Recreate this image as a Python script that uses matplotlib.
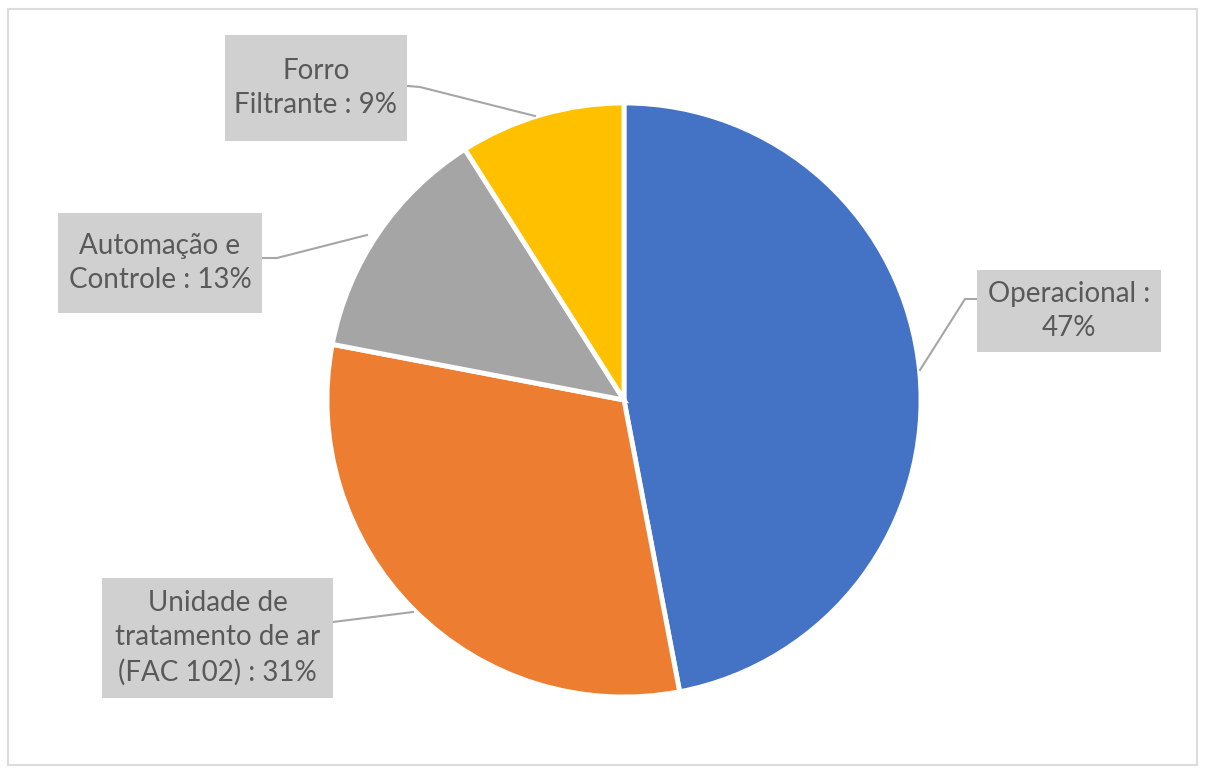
import matplotlib.pyplot as plt
from matplotlib.patches import Rectangle

# Slice data, clockwise from 12 o'clock
categories = ["Operacional", "Unidade de\ntratamento de ar\n(FAC 102)", "Automação e\nControle", "Forro\nFiltrante"]
shares = [47, 31, 13, 9]
colors = ["#4472C4", "#ED7D31", "#A5A5A5", "#FFC000"]

W, H = 1205, 773
fig = plt.figure(figsize=(W / 100, H / 100), dpi=100)
ax = fig.add_axes([0, 0, 1, 1])
ax.set_xlim(0, W)
ax.set_ylim(0, H)
ax.set_aspect("equal")
ax.axis("off")

# chart area frame
ax.add_patch(Rectangle((8, H - 765), 1189, 756, fill=False, ec="#dcdcdc", lw=1.5))

cx, cy, r = 624, H - 400, 297
ax.pie(shares, colors=colors, startangle=90, counterclock=False,
       center=(cx, cy), radius=r, frame=True,
       wedgeprops=dict(edgecolor="white", linewidth=3.5))
ax.set_xlim(0, W)
ax.set_ylim(0, H)
ax.axis("off")

# label boxes (x0, y0, x1, y1 in pixels from top-left) and leader lines
boxes = [(977, 270, 1161, 352), (102, 578, 333, 698), (58, 213, 262, 313), (225, 35, 407, 141)]
leaders = [
    [(978, 299), (965, 299), (920, 370)],
    [(333, 622), (413, 612)],
    [(262, 258), (277, 258), (367, 235)],
    [(408, 86), (420, 87), (535, 116)],
]
label_text = []
for name, v in zip(categories, shares):
    if name == "Operacional":
        label_text.append(f"{name} :\n{v}%")
    else:
        label_text.append(f"{name} : {v}%")

for (x0, y0, x1, y1), pts, txt in zip(boxes, leaders, label_text):
    ax.add_patch(Rectangle((x0, H - y1), x1 - x0, y1 - y0, fc="#d0d0d0", ec="none", zorder=3))
    ax.text((x0 + x1) / 2, H - (y0 + y1) / 2, txt, ha="center", va="center",
            fontsize=20, color="#595959", family="Lato", linespacing=1.4, zorder=4)
    xs = [p[0] for p in pts]
    ys = [H - p[1] for p in pts]
    ax.plot(xs, ys, color="#a6a6a6", lw=1.5, zorder=2)

fig.savefig("out.png", dpi=100, facecolor="white")
